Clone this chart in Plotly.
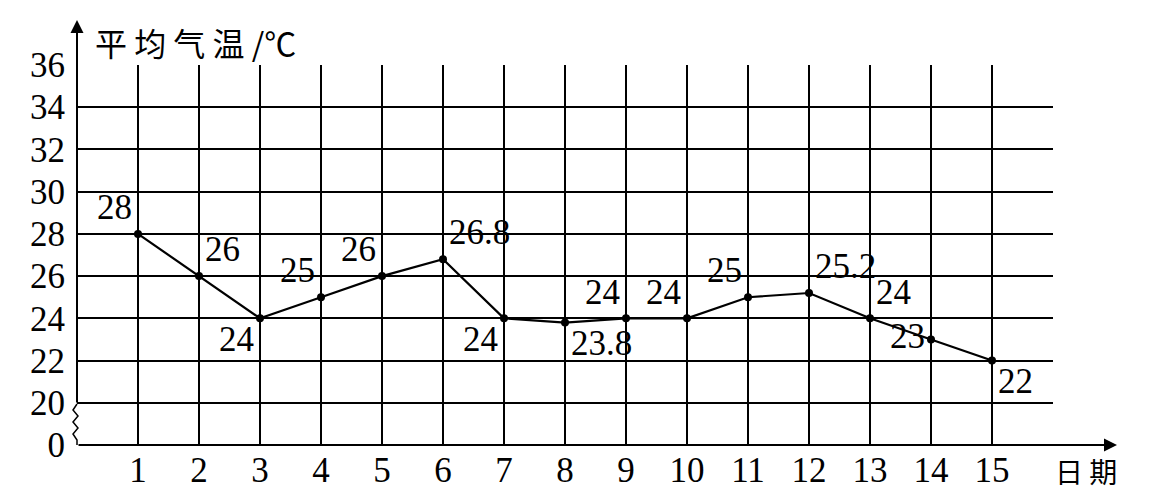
import plotly.graph_objects as go

days = list(range(1, 16))
temps = [28, 26, 24, 25, 26, 26.8, 24, 23.8, 24, 24, 25, 25.2, 24, 23, 22]
label_pos = ["top left", "top right", "bottom left", "top left", "top left",
             "top right", "bottom left", "bottom right", "top left", "top left",
             "top left", "top right", "top right", "middle left", "bottom right"]
y_tickvals = [18, 20, 22, 24, 26, 28, 30, 32, 34, 36]
y_ticktext = ["0", "20", "22", "24", "26", "28", "30", "32", "34", "36"]
x_tickvals = list(range(1, 17))
x_ticktext = [str(d) for d in days] + [""]

W, H = 1166, 492
L, R, T, B = 77, 1053, 65, 445
serif = "Liberation Serif"
cjk = "Noto Sans CJK SC"

fig = go.Figure()
fig.add_trace(go.Scatter(
    x=days, y=temps, mode="lines+markers+text",
    line=dict(color="black", width=2.2),
    marker=dict(color="black", size=8),
    text=[("%g" % v) for v in temps],
    textposition=label_pos,
    textfont=dict(family=serif, size=35, color="black"),
    cliponaxis=False, showlegend=False,
))

def px(x):
    return (x - L) / (R - L)

def py(y):
    return (B - y) / (B - T)

pts = [(77, 404), (73, 410), (78, 416), (73, 422), (78, 428), (73, 434), (77, 440), (77, 445)]
path = "M " + " L ".join(f"{px(x):.5f},{py(y):.5f}" for x, y in pts)
fig.add_shape(type="path", path=path, xref="paper", yref="paper",
              line=dict(color="black", width=1.5))

annotations = [
    dict(x=0, y=py(20), xref="paper", yref="paper", ax=0, ay=404 - 20,
         text="", showarrow=True, arrowhead=2, arrowsize=1.3, arrowwidth=2, arrowcolor="black"),
    dict(x=px(1117), y=0, xref="paper", yref="paper", ax=-(1117 - 77), ay=0,
         text="", showarrow=True, arrowhead=2, arrowsize=1.3, arrowwidth=2, arrowcolor="black"),
    dict(x=px(93), y=py(42), xref="paper", yref="paper", xanchor="left", yanchor="middle",
         text="平 均 气 温 /℃", showarrow=False, font=dict(family=cjk, size=32, color="black")),
    dict(x=px(1086), y=py(471), xref="paper", yref="paper", xanchor="center", yanchor="middle",
         text="日 期", showarrow=False, font=dict(family=cjk, size=28, color="black")),
]

fig.update_layout(
    width=W, height=H,
    margin=dict(l=L, r=W - R, t=T, b=H - B, autoexpand=False),
    paper_bgcolor="white", plot_bgcolor="white",
    annotations=annotations,
    xaxis=dict(range=[0, 16], tickmode="array", tickvals=x_tickvals, ticktext=x_ticktext,
               showgrid=True, gridcolor="black", gridwidth=1.5, zeroline=False,
               showline=False, ticks="", ticklabelstandoff=1, automargin=False,
               tickfont=dict(family=serif, size=35, color="black")),
    yaxis=dict(range=[18, 36], tickmode="array", tickvals=y_tickvals, ticktext=y_ticktext,
               showgrid=True, gridcolor="black", gridwidth=1.5, zeroline=False,
               showline=False, ticks="", ticklabelstandoff=11, automargin=False,
               tickfont=dict(family=serif, size=35, color="black")),
)

fig.write_html("out.html", config={"displayModeBar": False},
               post_script="document.body.style.margin='0';document.body.style.padding='0';")
